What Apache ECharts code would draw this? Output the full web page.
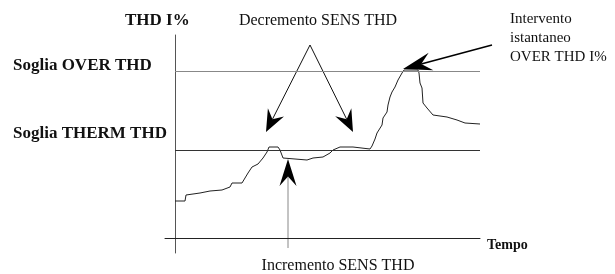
<!DOCTYPE html>
<html lang="it">
<head>
    <meta charset="UTF-8">
    <title>THD I%</title>
    <script src="https://cdn.jsdelivr.net/npm/echarts@6/dist/echarts.min.js"></script>
    <style>
        html, body { margin: 0; padding: 0; background: #fff; }
        #container { width: 615px; height: 274px; }
    </style>
</head>
<body>
<div id="container"></div>
<script>
    // tempo (unita arbitrarie) e THD I%
    var tempo = [0, 2, 2.2, 5, 7, 9.4, 11, 11.4, 13.4, 14, 14.6, 15.4, 16.6, 17.6, 18.4, 18.8, 20.6, 21, 21.6, 22,
        26.4, 27.6, 29.6, 31, 31.6, 33, 35.6, 36, 39, 39.4, 40, 40.4, 41.4, 41.6, 42.4, 42.6, 43, 43.4, 44, 44.6,
        45.4, 45.8, 48.6, 48.8, 49, 49.4, 49.6, 50.4, 51.6, 54.4, 56.4, 58, 61];
    var thd = [18.5, 18.5, 21.5, 22.5, 23.5, 24, 25.5, 27.5, 27.5, 30, 32.5, 35.5, 37, 40, 43, 45.5, 45.5, 44, 40, 39,
        39, 40, 40.5, 42.5, 44, 45.5, 45.5, 44.5, 44.5, 46, 49.5, 52.5, 56.5, 60, 63, 66.5, 70.5, 73, 75.5, 79,
        82.5, 84, 84, 82.5, 77.5, 75, 67.5, 65, 61.5, 60.5, 59, 57.5, 57];
    var sogliaOver = 83.5;
    var sogliaTherm = 44;

    var serie = [];
    for (var i = 0; i < tempo.length; i++) {
        serie.push([tempo[i], thd[i]]);
    }

    var serif = '"Liberation Serif", "Times New Roman", serif';

    function testo(t, x, y, size, bold, align) {
        return {
            type: 'text', silent: true,
            style: {
                text: t, x: x, y: y, fill: '#111',
                font: (bold ? 'bold ' : '') + size + 'px ' + serif,
                textAlign: align || 'left', textVerticalAlign: 'middle'
            }
        };
    }

    // freccia con punta "stealth" piena
    function freccia(x1, y1, x2, y2, len, wid, colore, spessore) {
        var dx = x2 - x1, dy = y2 - y1;
        var d = Math.sqrt(dx * dx + dy * dy);
        var ux = dx / d, uy = dy / d, nx = -uy, ny = ux;
        var bx = x2 - ux * len, by = y2 - uy * len;
        var kx = x2 - ux * len * 0.65, ky = y2 - uy * len * 0.65;
        return [{
            type: 'line', silent: true,
            shape: { x1: x1, y1: y1, x2: kx, y2: ky },
            style: { stroke: colore || '#111', lineWidth: spessore || 1 }
        }, {
            type: 'polygon', silent: true,
            shape: { points: [[x2, y2], [bx + nx * wid / 2, by + ny * wid / 2], [kx, ky], [bx - nx * wid / 2, by - ny * wid / 2]] },
            style: { fill: '#000' }
        }];
    }

    var elementi = [
        testo('THD I%', 125, 21, 17, true),
        testo('Soglia OVER THD', 13, 66, 17, true),
        testo('Soglia THERM THD', 13, 134, 17, true),
        testo('Decremento SENS THD', 318, 21, 16, false, 'center'),
        testo('Incremento SENS THD', 338, 266, 16, false, 'center'),
        testo('Intervento', 510, 19, 15, false),
        testo('istantaneo', 510, 38, 15, false),
        testo('OVER THD I%', 510, 57, 15, false),
        testo('Tempo', 487, 245, 14, true)
    ];
    elementi = elementi
        .concat(freccia(310, 45, 266, 132, 22, 18))
        .concat(freccia(310, 45, 353, 132, 22, 18))
        .concat(freccia(492, 45, 403, 69, 29, 18, '#000', 1.6))
        .concat(freccia(288, 248, 288, 159, 27, 17, '#888'));

    var myChart = echarts.init(document.getElementById('container'), null, { renderer: 'canvas' });

    var option = {
        animation: false,
        backgroundColor: '#fff',
        grid: { left: 165, right: 135, top: 35, bottom: 21 },
        xAxis: {
            type: 'value', min: -2, max: 61,
            axisLine: { show: true, onZero: true, lineStyle: { color: '#222', width: 1 } },
            axisTick: { show: false }, axisLabel: { show: false }, splitLine: { show: false }
        },
        yAxis: {
            type: 'value', min: -7.5, max: 101.5,
            axisLine: { show: true, onZero: true, lineStyle: { color: '#555', width: 1 } },
            axisTick: { show: false }, axisLabel: { show: false }, splitLine: { show: false }
        },
        series: [{
            type: 'line',
            data: serie,
            showSymbol: false,
            lineStyle: { color: '#222', width: 1 },
            markLine: {
                silent: true,
                symbol: ['none', 'none'],
                label: { show: false },
                data: [
                    [{ coord: [0, sogliaOver], lineStyle: { color: '#888', width: 1, type: 'solid' } }, { coord: [61, sogliaOver] }],
                    [{ coord: [0, sogliaTherm], lineStyle: { color: '#333', width: 1, type: 'solid' } }, { coord: [61, sogliaTherm] }]
                ]
            }
        }],
        graphic: elementi
    };
    myChart.setOption(option);
</script>
</body>
</html>
